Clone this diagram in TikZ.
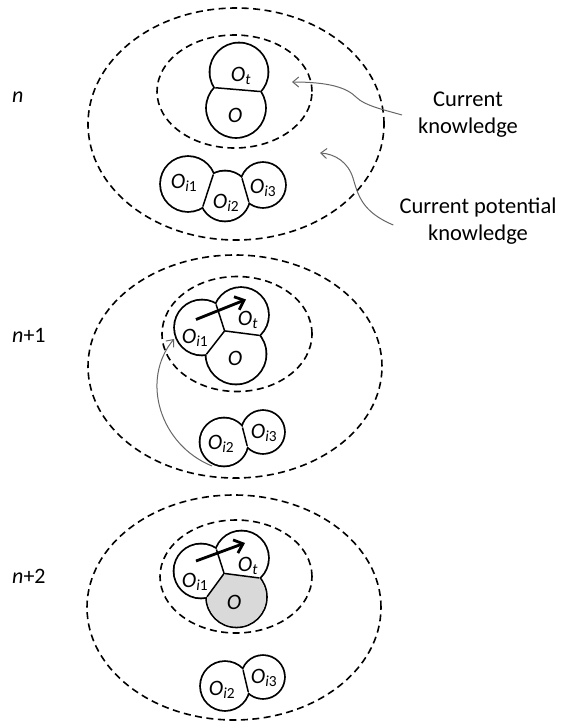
\documentclass[tikz,border=0pt]{standalone}
\usepackage{fontspec}
\setmainfont{Carlito}
\usetikzlibrary{arrows.meta, calc, intersections}

\definecolor{cellgray}{RGB}{217,217,217}

\tikzset{
    zone/.style={dash pattern=on 7pt off 4.5pt, line width=1.6pt},
    blob/.style={line width=3.6pt},
    chord/.style={line width=1.5pt},
    lbl/.style={font=\fontsize{22}{26}\selectfont, inner sep=0pt},
    note/.style={font=\fontsize{22.5}{27}\selectfont, align=center, inner sep=0pt},
    hint/.style={black!60, line width=1pt, -{Straight Barb[length=6pt, width=10pt]}},
    push/.style={line width=2.8pt, -{Straight Barb[length=8pt, width=14pt]}},
}

% clip to the side of circle #1 that faces away from circle #2
\newcommand{\keepside}[2]{%
    \path[name intersections={of=#1 and #2, name=cut}];
    \coordinate (cuta) at ($(cut-1)!-8!(cut-2)$);
    \coordinate (cutb) at ($(cut-1)!9!(cut-2)$);
    \coordinate (cutd) at ($(#1)-(#2)$);
    \clip (cuta) -- (cutb) -- ($(cutb)+6*(cutd)$) -- ($(cuta)+6*(cutd)$) -- cycle;}

\newcommand{\Obj}[1]{\textit{O}\textsubscript{#1}}

\begin{document}
\begin{tikzpicture}[x=1pt, y=-1pt]
    % pixel coordinates, origin at the top-left corner
    \useasboundingbox (0,0) rectangle (563,724);

    % --- Circle centres ---
    % level n
    \coordinate (g1t) at (239,72);
    \coordinate (g1o) at (236,108);
    \coordinate (g1a) at (188,184); % O_i1
    \coordinate (g1b) at (225,196); % O_i2
    \coordinate (g1c) at (263,185); % O_i3
    % level n+1
    \coordinate (g2a) at (202,327.5);
    \coordinate (g2t) at (241,315);
    \coordinate (g2o) at (236,354);
    \coordinate (g2b) at (224,442);
    \coordinate (g2c) at (263,432);
    % level n+2
    \coordinate (g3a) at (201,571);
    \coordinate (g3t) at (241.5,558);
    \coordinate (g3o) at (236.5,597);
    \coordinate (g3b) at (225,686);
    \coordinate (g3c) at (263,677);

    % --- Dashed knowledge zones ---
    \draw[zone] (236,124) ellipse [x radius=148pt, y radius=116pt];
    \draw[zone] (234.5,91.5) ellipse [x radius=77.5pt, y radius=56.5pt];
    \draw[zone] (235,366.5) ellipse [x radius=147pt, y radius=111.5pt];
    \draw[zone] (237,334) ellipse [x radius=75pt, y radius=57.5pt];
    \draw[zone] (234,607.5) ellipse [x radius=147pt, y radius=112.5pt];
    \draw[zone] (236,576.5) ellipse [x radius=76pt, y radius=56.5pt];

    % --- Object circles (outer half of the stroke stays visible) ---
    \draw[blob, name path=g1t] (g1t) circle (28.5pt);
    \draw[blob, name path=g1o] (g1o) circle (29pt);
    \draw[blob, name path=g1a] (g1a) circle (27pt);
    \draw[blob, name path=g1b] (g1b) circle (24.5pt);
    \draw[blob, name path=g1c] (g1c) circle (22pt);
    \draw[blob, name path=g2a] (g2a) circle (27pt);
    \draw[blob, name path=g2t] (g2t) circle (27pt);
    \draw[blob, name path=g2o] (g2o) circle (29.5pt);
    \draw[blob, name path=g2b] (g2b) circle (23.5pt);
    \draw[blob, name path=g2c] (g2c) circle (21pt);
    \draw[blob, name path=g3a] (g3a) circle (26.5pt);
    \draw[blob, name path=g3t] (g3t) circle (26.5pt);
    \draw[blob, name path=g3o] (g3o) circle (29.5pt);
    \draw[blob, name path=g3b] (g3b) circle (24pt);
    \draw[blob, name path=g3c] (g3c) circle (21pt);

    \fill[white] (g1t) circle (28.5pt) (g1o) circle (29pt) (g1a) circle (27pt)
        (g1b) circle (24.5pt) (g1c) circle (22pt);
    \fill[white] (g2a) circle (27pt) (g2t) circle (27pt) (g2o) circle (29.5pt)
        (g2b) circle (23.5pt) (g2c) circle (21pt);
    \fill[white] (g3a) circle (26.5pt) (g3t) circle (26.5pt) (g3o) circle (29.5pt)
        (g3b) circle (24pt) (g3c) circle (21pt);

    % grey cell of O at level n+2
    \begin{scope}
        \keepside{g3o}{g3t}
        \keepside{g3o}{g3a}
        \fill[cellgray] (g3o) circle (29.5pt);
    \end{scope}

    % --- Chords between touching objects ---
    \path[name intersections={of=g1t and g1o, name=k1to}];
    \path[name intersections={of=g1a and g1b, name=k1ab}];
    \path[name intersections={of=g1b and g1c, name=k1bc}];
    \path[name intersections={of=g2b and g2c, name=k2bc}];
    \path[name intersections={of=g3b and g3c, name=k3bc}];
    \draw[chord] (k1to-1) -- (k1to-2);
    \draw[chord] (k1ab-1) -- (k1ab-2);
    \draw[chord] (k1bc-1) -- (k1bc-2);
    \draw[chord] (k2bc-1) -- (k2bc-2);
    \draw[chord] (k3bc-1) -- (k3bc-2);

    % three-way junctions
    \path[name intersections={of=g2a and g2t, name=k2at}];
    \path[name intersections={of=g2a and g2o, name=k2ao}];
    \path[name intersections={of=g2t and g2o, name=k2to}];
    \begin{scope} \keepside{g2a}{g2o} \draw[chord] (k2at-1) -- (k2at-2); \end{scope}
    \begin{scope} \keepside{g2a}{g2t} \draw[chord] (k2ao-1) -- (k2ao-2); \end{scope}
    \begin{scope} \keepside{g2t}{g2a} \draw[chord] (k2to-1) -- (k2to-2); \end{scope}

    \path[name intersections={of=g3a and g3t, name=k3at}];
    \path[name intersections={of=g3a and g3o, name=k3ao}];
    \path[name intersections={of=g3t and g3o, name=k3to}];
    \begin{scope} \keepside{g3a}{g3o} \draw[chord] (k3at-1) -- (k3at-2); \end{scope}
    \begin{scope} \keepside{g3a}{g3t} \draw[chord] (k3ao-1) -- (k3ao-2); \end{scope}
    \begin{scope} \keepside{g3t}{g3a} \draw[chord] (k3to-1) -- (k3to-2); \end{scope}

    % --- Object labels ---
    \node[lbl] (l1t) at (241,76) {\Obj{\textit{t}}};
    \node[lbl] (l1o) at (235,115) {\textit{O}};
    \node[lbl] (l1a) at (184,183) {\Obj{\textit{i}1}};
    \node[lbl] (l1b) at (226,203) {\Obj{\textit{i}2}};
    \node[lbl] (l1c) at (263,188) {\Obj{\textit{i}3}};

    \node[lbl] (l2a) at (195,338) {\Obj{\textit{i}1}};
    \node[lbl] (l2t) at (248,320) {\Obj{\textit{t}}};
    \node[lbl] (l2o) at (235,358) {\textit{O}};
    \node[lbl] (l2b) at (221,444) {\Obj{\textit{i}2}};
    \node[lbl] (l2c) at (264,433) {\Obj{\textit{i}3}};

    \node[lbl] (l3a) at (195,582) {\Obj{\textit{i}1}};
    \node[lbl] (l3t) at (248,566) {\Obj{\textit{t}}};
    \node[lbl] (l3o) at (234,602) {\textit{O}};
    \node[lbl] (l3b) at (222,690) {\Obj{\textit{i}2}};
    \node[lbl] (l3c) at (264,678) {\Obj{\textit{i}3}};

    % --- Learning steps ---
    \coordinate (s2from) at (196,319.5);
    \coordinate (s2to) at (246,299.5);
    \coordinate (s3from) at (196,561);
    \coordinate (s3to) at (245,543);
    \draw[push] (s2from) -- (s2to);
    \draw[push] (s3from) -- (s3to);

    % O_i2 moves into the current knowledge
    \coordinate (m2from) at (212,466);
    \coordinate (m2to) at (174,339);
    \draw[hint] (m2from) .. controls (160,445) and (140,380) .. (m2to);

    % --- Level labels ---
    \node[lbl, anchor=west] (lvn) at (12,97) {\textit{n}};
    \node[lbl, anchor=west] (lvn1) at (12,335) {\textit{n}+1};
    \node[lbl, anchor=west] (lvn2) at (12,576) {\textit{n}+2};

    % --- Annotations ---
    \node[note] (ck) at (468,115) {Current\\knowledge};
    \node[note] (cpk) at (478,221) {Current potential\\knowledge};
    \coordinate (ckin) at (292,82);
    \coordinate (cpkin) at (320,153);
    \draw[hint] ([xshift=-16pt]ck.west) .. controls (385,110) and (365,106) .. (356,97)
        .. controls (347,88) and (330,82) .. (ckin);
    \draw[hint] ([xshift=-6pt, yshift=-4pt]cpk.west) .. controls (362,212) and (358,195) .. (353,178)
        .. controls (348,162) and (335,154) .. (cpkin);
\end{tikzpicture}
\end{document}
